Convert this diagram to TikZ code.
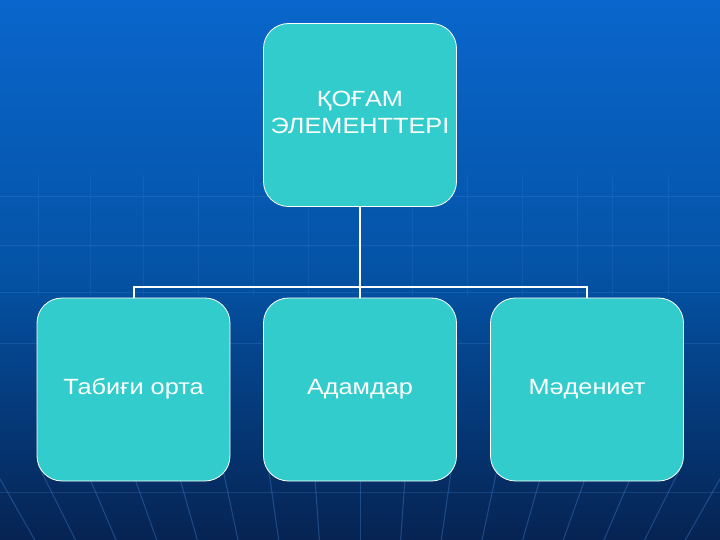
\documentclass[tikz,border=0pt]{standalone}
\usepackage{fontspec}
\setmainfont[FakeStretch=1.15]{Liberation Sans}
\usetikzlibrary{calc}
\definecolor{bgtop}{HTML}{0A66CC}
\definecolor{bgmid}{HTML}{0453A6}
\definecolor{bgbot}{HTML}{062352}
\definecolor{teal}{HTML}{33CCCC}
\definecolor{gridc}{HTML}{4A8FE0}
\tikzset{
  box/.style={draw=white, line width=0.8pt, fill=teal, rounded corners=25pt,
    minimum width=193pt, minimum height=183pt, text=white, align=center,
    font=\fontsize{22}{27}\selectfont, inner sep=0pt},
  conn/.style={draw=white, line width=2pt},
  gridl/.style={draw=gridc, line width=1pt, opacity=0.35}
}
\begin{document}
\begin{tikzpicture}[x=1pt,y=-1pt]
\useasboundingbox (0,0) rectangle (720,540);
\shade[top color=bgtop, bottom color=bgmid] (0,0) rectangle (720,270);
\shade[top color=bgmid, bottom color=bgbot] (0,270) rectangle (720,541);
% faint grid
\foreach \x in {38,90,143,198,253,308,412,467,522,577,612,668} {
  \draw[gridl, opacity=0.15] (\x,175) -- (\x,295);
}
\foreach \y in {197,245,292,343,492} {
  \draw[gridl, opacity=0.22] (0,\y) -- (720,\y);
}
\begin{scope}
\clip (0,465) rectangle (720,540);
\foreach \k in {-9,...,9} {
  \draw[gridl, opacity=0.35] (360+46*\k,465) -- (360,1110);
}
\end{scope}
% boxes
\node[box] (top) at (360,115) {\strut ҚОҒАМ\\\strut ЭЛЕМЕНТТЕРІ};
\node[box] (b1) at (133.5,389.5) {\strut Табиғи орта};
\node[box] (b2) at (360,389.5) {\strut Адамдар};
\node[box] (b3) at (587,389.5) {\strut Мәдениет};
\coordinate (j) at (360,287);
\draw[conn] (top.south) -- (j);
\draw[conn] (j) -| (b1.north);
\draw[conn] (j) -| (b3.north);
\draw[conn] (j) -- (b2.north);
\end{tikzpicture}
\end{document}
